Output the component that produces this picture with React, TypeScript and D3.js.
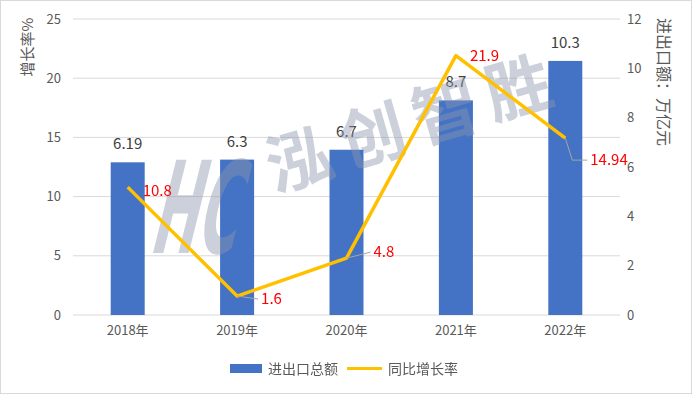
import { scaleBand, scaleLinear, line } from "d3";

const years = ["2018年", "2019年", "2020年", "2021年", "2022年"];
const tradeTotal = [6.19, 6.3, 6.7, 8.7, 10.3];
const growthRate = [10.8, 1.6, 4.8, 21.9, 14.94];
const leftTicks = [0, 5, 10, 15, 20, 25];
const rightTicks = [0, 2, 4, 6, 8, 10, 12];
const watermark = ["泓", "创", "智", "胜"];

const width = 692;
const height = 394;
const plot = { left: 73, right: 620, top: 19, bottom: 315 };
const font = "'Microsoft YaHei', 'Noto Sans CJK SC', sans-serif";

// where the red growth labels sit relative to their point
const rateLabelPos = [
  { dx: 15, dy: 9, leader: false },
  { dx: 24, dy: 8, leader: true },
  { dx: 27, dy: -1, leader: true },
  { dx: 14, dy: 5, leader: false },
  { dx: 25, dy: 27, leader: true },
];

const App = () => {
  const x = scaleBand().domain(years).range([plot.left, plot.right]);
  const yLeft = scaleLinear().domain([0, 25]).range([plot.bottom, plot.top]);
  const yRight = scaleLinear().domain([0, 12]).range([plot.bottom, plot.top]);
  const barW = 34;
  const cx = (d: string) => (x(d) ?? 0) + x.bandwidth() / 2;

  const rateLine = line<number>()
    .x((d, i) => cx(years[i]))
    .y((d) => yLeft(d));

  return (
    <svg
      width={width}
      height={height}
      style={{ position: "absolute", left: 0, top: 0, fontFamily: font }}
    >
      <rect x={0.5} y={0.5} width={width - 1} height={height - 1} fill="#fff" stroke="#d9d9d9" />
      {leftTicks.map((t) => (
        <g key={t}>
          <line x1={plot.left} x2={plot.right} y1={yLeft(t)} y2={yLeft(t)} stroke="#d9d9d9" />
          <text x={61} y={yLeft(t)} dy="0.35em" textAnchor="end" fontSize={13} fill="#595959">
            {t}
          </text>
        </g>
      ))}
      {rightTicks.map((t) => (
        <text key={t} x={627} y={yRight(t)} dy="0.35em" fontSize={13} fill="#595959">
          {t}
        </text>
      ))}
      <text
        transform={`translate(33,47) rotate(-90)`}
        textAnchor="middle"
        fontSize={15}
        fill="#595959"
      >
        增长率%
      </text>
      <text
        transform={`translate(658,82) rotate(90)`}
        textAnchor="middle"
        fontSize={16}
        fill="#595959"
      >
        进出口额：万亿元
      </text>

      {tradeTotal.map((v, i) => (
        <g key={years[i]}>
          <rect
            x={cx(years[i]) - barW / 2}
            y={yRight(v)}
            width={barW}
            height={plot.bottom - yRight(v)}
            fill="#4472C4"
          />
          <text x={cx(years[i])} y={yRight(v) - 13} textAnchor="middle" fontSize={15} fill="#404040">
            {v}
          </text>
        </g>
      ))}
      {years.map((d) => (
        <text key={d} x={cx(d)} y={335} textAnchor="middle" fontSize={13} fill="#595959">
          {d}
        </text>
      ))}

      {/* watermark */}
      <g fill="#8c96ad" opacity={0.45} fontWeight="bold">
        <text
          transform="translate(148,253) skewX(-14)"
          fontSize={128}
          textLength={86}
          lengthAdjust="spacingAndGlyphs"
          fontFamily="'DejaVu Sans', sans-serif"
        >
          HC
        </text>
        {watermark.map((c, i) => (
          <text
            key={c}
            transform={`translate(${306 + i * 73},${183 - i * 24}) rotate(-16)`}
            textAnchor="middle"
            fontSize={66}
          >
            {c}
          </text>
        ))}
      </g>

      <path d={rateLine(growthRate) ?? ""} fill="none" stroke="#FFC000" strokeWidth={3.5} strokeLinejoin="round" />
      {growthRate.map((v, i) => {
        const px = cx(years[i]);
        const py = yLeft(v);
        const p = rateLabelPos[i];
        const lx = px + p.dx;
        const ly = py + p.dy;
        return (
          <g key={i}>
            {p.leader && (
              <polyline
                points={
                  p.dy > 20
                    ? `${px},${py} ${px + 7},${ly - 5} ${lx - 3},${ly - 5}`
                    : `${px},${py} ${lx - 3},${ly - 5}`
                }
                fill="none"
                stroke="#a6a6a6"
              />
            )}
            <text x={lx} y={ly} fontSize={15} fill="#FF0000">
              {v}
            </text>
          </g>
        );
      })}

      <rect x={230} y={364} width={32} height={9} fill="#4472C4" />
      <text x={268} y={374} fontSize={14} fill="#595959">
        进出口总额
      </text>
      <line x1={347} x2={382} y1={368.5} y2={368.5} stroke="#FFC000" strokeWidth={3} />
      <text x={388} y={374} fontSize={14} fill="#595959">
        同比增长率
      </text>
    </svg>
  );
};

export default App;
